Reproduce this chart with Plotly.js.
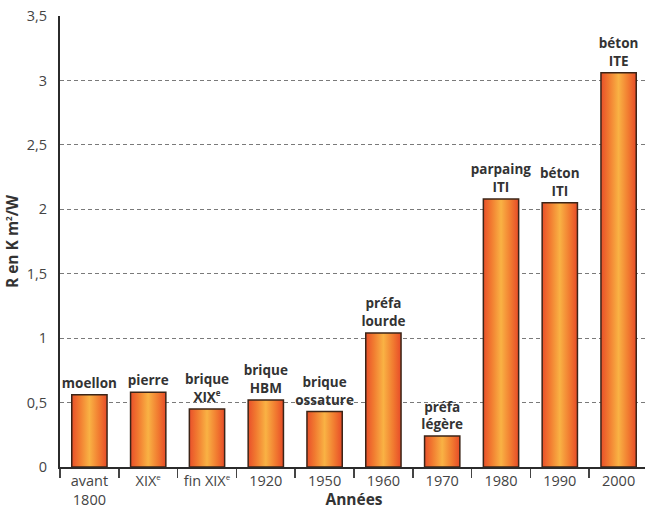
<!DOCTYPE html>
<html>
<head>
<meta charset="utf-8">
<script src="https://cdn.plot.ly/plotly-3.0.1.min.js"></script>
<style>
  html, body { margin: 0; padding: 0; background: #fff; overflow: hidden; }
  #chart { width: 648px; height: 510px; }
</style>
</head>
<body>
<div id="chart"></div>
<script>
// Thermal resistance of typical wall construction, by period
const SUP_E = '<sup><span style="font-size:8px">e</span></sup>';
const categories = ['avant 1800', 'XIXe', 'fin XIXe', '1920', '1950', '1960', '1970', '1980', '1990', '2000'];
const tickLabels = ['avant<br>1800', 'XIX' + SUP_E, 'fin XIX' + SUP_E, '1920', '1950', '1960', '1970', '1980', '1990', '2000'];
const rValues = [0.56, 0.58, 0.45, 0.52, 0.43, 1.04, 0.24, 2.08, 2.05, 3.06];
const wallTypes = ['moellon', 'pierre', 'brique<br>XIX' + SUP_E, 'brique<br>HBM', 'brique<br>ossature',
                   'préfa<br>lourde', 'préfa<br>légère', 'parpaing<br>ITI', 'béton<br>ITI', 'béton<br>ITE'];
const yTicks = [0, 0.5, 1, 1.5, 2, 2.5, 3, 3.5];

const FONT = 'Open Sans, Noto Sans, sans-serif';

const trace = {
  type: 'bar',
  x: categories,
  y: rValues,
  width: 0.6,
  text: wallTypes,
  textposition: 'outside',
  constraintext: 'none',
  cliponaxis: false,
  textfont: { family: FONT, size: 13.5, color: '#333', weight: 700 },
  marker: { color: '#f28a33', line: { color: '#3b2417', width: 1.5 } },
  hoverinfo: 'none'
};

const layout = {
  width: 648,
  height: 510,
  margin: { l: 60, r: 0, t: 16, b: 43 },
  paper_bgcolor: '#fff',
  plot_bgcolor: '#fff',
  showlegend: false,
  font: { family: FONT, color: '#444', size: 14.5 },
  xaxis: {
    type: 'category',
    tickmode: 'array',
    tickvals: categories,
    ticktext: tickLabels,
    tickson: 'boundaries',
    ticks: 'outside',
    ticklen: 9,
    tickwidth: 1.5,
    tickcolor: '#444',
    showline: true,
    linecolor: '#2b2b2b',
    linewidth: 2,
    showgrid: false,
    tickfont: { family: FONT, size: 14.5, color: '#444' },
    title: { text: 'Années', font: { family: FONT, size: 15.5, color: '#333', weight: 700 }, standoff: 2 },
    fixedrange: true
  },
  yaxis: {
    range: [0, 3.5],
    tickmode: 'array',
    tickvals: yTicks,
    ticktext: yTicks.map(v => String(v).replace('.', ',')),
    ticks: 'outside',
    ticklen: 8,
    tickcolor: 'rgba(0,0,0,0)',
    showline: true,
    linecolor: '#2b2b2b',
    linewidth: 2,
    showgrid: true,
    gridcolor: '#7a7a7a',
    gridwidth: 1,
    griddash: '4px,3px',
    zeroline: false,
    tickfont: { family: FONT, size: 14.5, color: '#444' },
    title: { text: 'R en K m<sup><span style="font-size:8px">2</span></sup>/W', font: { family: FONT, size: 15.5, color: '#333', weight: 700 }, standoff: 4 },
    fixedrange: true
  }
};

Plotly.newPlot('chart', [trace], layout, { displayModeBar: false, staticPlot: true }).then(gd => {
  // Horizontal orange gradient on each bar: red-orange edges, light amber centre
  const ns = 'http://www.w3.org/2000/svg';
  const svg = gd.querySelector('.main-svg');
  let defs = svg.querySelector('defs');
  if (!defs) { defs = document.createElementNS(ns, 'defs'); svg.insertBefore(defs, svg.firstChild); }
  const grad = document.createElementNS(ns, 'linearGradient');
  grad.setAttribute('id', 'barGradient');
  grad.setAttribute('x1', '0'); grad.setAttribute('y1', '0');
  grad.setAttribute('x2', '1'); grad.setAttribute('y2', '0');
  [['0%', '#e9502a'], ['22%', '#f17a30'], ['50%', '#f9b244'], ['78%', '#f17a30'], ['100%', '#e74c28']].forEach(([o, c]) => {
    const s = document.createElementNS(ns, 'stop');
    s.setAttribute('offset', o); s.setAttribute('stop-color', c);
    grad.appendChild(s);
  });
  defs.appendChild(grad);
  gd.querySelectorAll('.barlayer .point path').forEach(p => { p.style.fill = 'url(#barGradient)'; });
});
</script>
</body>
</html>
